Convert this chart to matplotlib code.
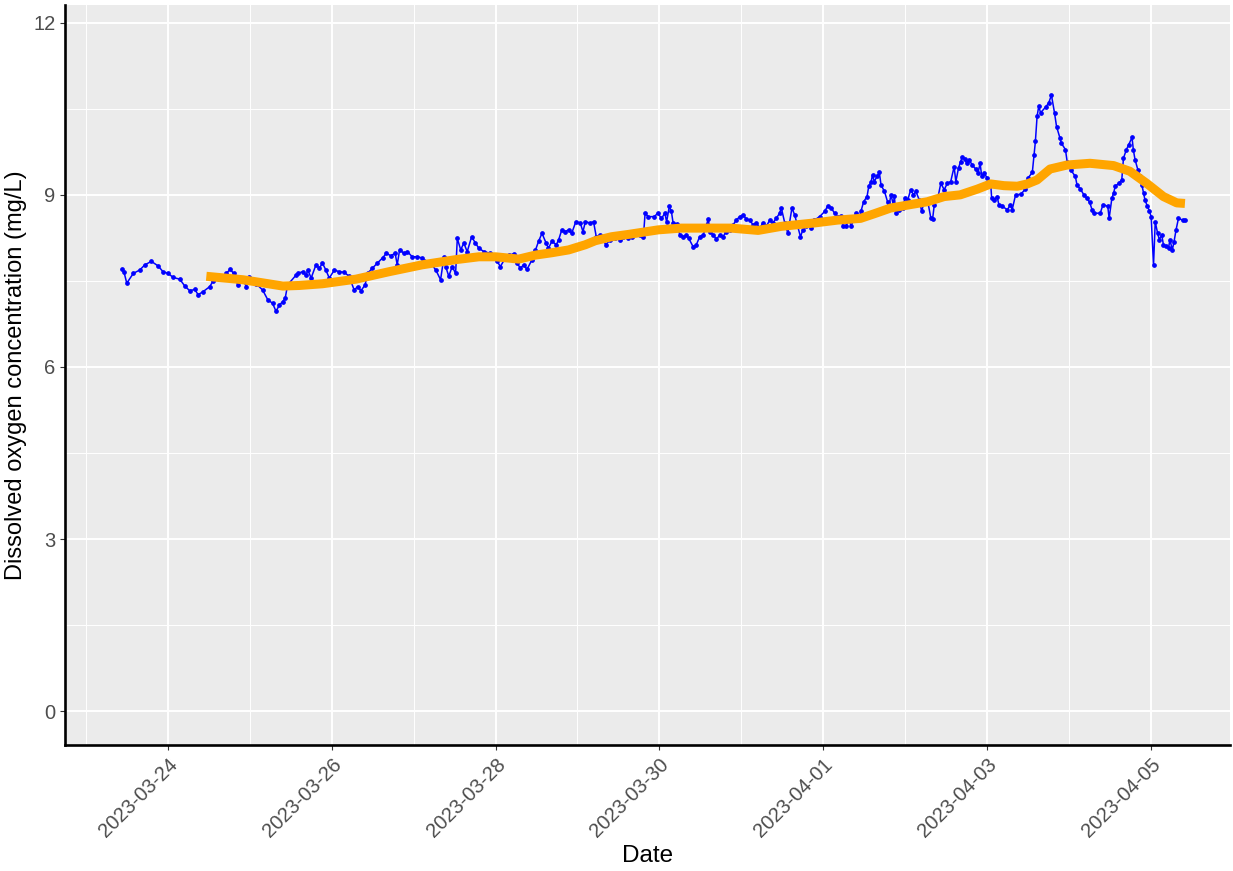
import numpy as np
import pandas as pd
import matplotlib
matplotlib.use("Agg")
import matplotlib.pyplot as plt
import matplotlib.dates as mdates

plt.rcParams['font.family'] = ['Liberation Sans', 'DejaVu Sans']

# hours after 2023-03-23 10:00 and dissolved oxygen (mg/L)
start = pd.Timestamp("2023-03-23 10:00")
do_hours = [0.5, 1.2, 2.0, 3.9, 5.8, 7.3, 9.2, 11.2, 12.6, 14.1, 15.6, 17.5, 19.0, 20.4,
            21.9, 22.9, 24.3, 26.3, 27.2, 29.2, 31.1, 32.3, 33.3, 34.5, 36.0, 37.0, 37.9,
            39.9, 41.8, 43.3, 44.7, 45.7, 46.7, 47.7, 48.4, 49.1, 51.6,
            52.0, 53.5, 54.5, 55.0, 56.0, 57.4, 58.4, 59.3, 60.3, 61.3, 62.8, 64.2, 65.7,
            67.1, 68.6, 69.6, 70.6, 71.8, 72.5, 73.9, 75.4, 76.9, 78.0, 79.3, 80.6, 81.2,
            81.9, 83.2, 84.2, 85.6, 87.1, 88.5, 89.0, 91.0, 92.5, 93.9, 94.9, 95.4, 96.3,
            97.3, 98.3, 98.8, 99.8, 100.7, 101.7, 103.0, 104.1, 105.1,
            106.6, 108.5, 110.5, 111.4, 112.9, 113.9, 115.3, 116.3, 117.3, 118.2, 119.2,
            120.7, 121.7, 122.6, 123.6, 124.8, 125.5, 126.5, 127.8, 128.5, 129.4, 130.4,
            131.4, 132.3, 133.5, 134.8, 135.6, 136.3, 137.7, 138.7, 139.5, 140.6, 142.3,
            143.6, 145.0, 146.5, 147.4, 148.9, 149.9, 152.3, 153.3, 153.8, 154.7, 156.5,
            157.5,
            158.6, 159.6, 160.1, 160.9, 161.5, 162.0, 163.0, 164.0, 165.0, 165.9, 166.6,
            167.9, 168.8, 169.8, 170.8, 171.8, 172.3, 172.8, 173.7, 174.7, 175.7, 176.6,
            177.6, 178.6, 179.6, 180.5, 181.5, 182.5, 183.4, 184.4, 185.4, 186.4, 187.4,
            188.3, 189.3, 190.3, 191.2, 192.2, 193.2, 193.7, 194.7, 195.6, 196.8, 197.6,
            198.5, 199.3, 200.0, 201.0, 202.0, 202.4, 203.4, 204.9, 206.4, 207.3, 208.3,
            209.3, 210.2,
            211.2, 211.7, 212.6, 213.6, 214.1, 215.1, 215.6, 216.6, 217.0, 217.8, 218.8,
            219.3, 220.0, 220.4, 220.9, 221.7, 222.4, 222.9, 223.9, 224.8, 225.3, 225.8,
            226.5, 226.8, 227.2, 228.2, 229.2, 229.9, 230.7, 231.6, 232.4, 233.1, 234.1,
            234.8, 235.5, 236.5, 237.5, 238.0, 238.5, 239.4, 240.4, 241.4, 242.3, 243.3,
            244.3, 244.8, 245.6, 246.2, 246.7, 247.4, 248.0, 248.7, 249.6, 250.6, 251.3,
            251.9, 252.4, 253.1, 254.0, 255.0, 255.3, 256.0, 256.9, 257.4, 258.4, 259.9,
            260.8, 261.3, 262.3,
            263.8, 265.2, 265.9, 267.2, 267.7, 268.1, 268.6, 269.1, 269.6, 271.1, 272.0,
            272.8, 273.7, 274.3, 275.3, 275.7, 276.9, 277.4, 278.4, 279.8, 280.3, 281.3,
            282.3, 283.2, 284.0, 284.7, 285.2, 287.1, 287.9, 289.3, 289.7, 290.5, 291.0,
            291.5, 292.5, 293.4, 293.9, 294.7, 295.4, 296.4, 296.8, 297.3, 298.1, 298.8,
            299.3, 299.8, 300.2, 300.9, 301.5, 302.0, 302.7, 303.2, 303.9, 304.4, 305.1,
            305.6, 306.4, 307.1, 307.5, 308.2, 308.7, 309.3, 310.0, 311.2, 311.9]
do_values = [7.70, 7.65, 7.46, 7.63, 7.69, 7.78, 7.84, 7.76, 7.66, 7.63, 7.56, 7.53, 7.41, 7.33,
             7.35, 7.26, 7.31, 7.40, 7.49, 7.53, 7.63, 7.70, 7.63, 7.43, 7.53, 7.40, 7.56,
             7.45, 7.34, 7.17, 7.11, 6.97, 7.08, 7.14, 7.20, 7.43, 7.60,
             7.63, 7.66, 7.60, 7.69, 7.55, 7.78, 7.72, 7.81, 7.69, 7.55, 7.69, 7.66, 7.65,
             7.58, 7.34, 7.40, 7.33, 7.43, 7.63, 7.72, 7.81, 7.90, 7.98, 7.94, 7.98, 7.78,
             8.04, 7.98, 8.01, 7.92, 7.92, 7.90, 7.84, 7.81, 7.69, 7.52, 7.92, 7.75, 7.58,
             7.75, 7.63, 8.24, 8.04, 8.16, 8.01, 8.27, 8.16, 8.07,
             8.01, 7.98, 7.84, 7.75, 7.90, 7.95, 7.97, 7.81, 7.72, 7.78, 7.70,
             7.87, 8.04, 8.19, 8.33, 8.16, 8.07, 8.19, 8.13, 8.22, 8.39, 8.36,
             8.39, 8.33, 8.53, 8.51, 8.36, 8.53, 8.51, 8.53, 8.27, 8.30, 8.13,
             8.22, 8.24, 8.22, 8.27, 8.24, 8.27, 8.30, 8.27, 8.68, 8.62, 8.62,
             8.68,
             8.59, 8.68, 8.53, 8.80, 8.71, 8.51, 8.49, 8.30, 8.27, 8.30, 8.24,
             8.09, 8.13, 8.27, 8.30, 8.48, 8.58, 8.36, 8.30, 8.23, 8.30, 8.27,
             8.36, 8.39, 8.48, 8.56, 8.62, 8.65, 8.58, 8.56, 8.48, 8.51, 8.42,
             8.51, 8.45, 8.56, 8.51, 8.59, 8.68, 8.77, 8.51, 8.33, 8.77, 8.65,
             8.45, 8.27, 8.39, 8.45, 8.53, 8.42, 8.56, 8.62, 8.71, 8.81, 8.77,
             8.68, 8.62,
             8.63, 8.46, 8.45, 8.59, 8.45, 8.61, 8.68, 8.62, 8.71, 8.88, 8.97,
             9.15, 9.23, 9.35, 9.23, 9.32, 9.39, 9.17, 9.06, 8.88, 8.83, 9.00,
             8.83, 8.98, 8.68, 8.74, 8.77, 8.94, 8.91, 9.09, 9.00, 9.06, 8.91,
             8.71, 8.88, 8.91, 8.59, 8.58, 8.83, 8.91, 9.20, 9.09, 9.20, 9.23,
             9.49, 9.23, 9.47, 9.58, 9.66, 9.62, 9.55, 9.61, 9.52, 9.45, 9.38,
             9.55, 9.32, 9.38, 9.29, 9.20, 8.94, 8.91, 8.97, 8.83, 8.80, 8.74,
             8.83, 8.74, 9.00,
             9.01, 9.10, 9.29, 9.39, 9.70, 9.93, 10.37, 10.55, 10.43, 10.53, 10.60,
             10.74, 10.43, 10.19, 9.99, 9.90, 9.79, 9.58, 9.44, 9.32, 9.17, 9.10,
             9.00, 8.94, 8.87, 8.74, 8.68, 8.68, 8.83, 8.80, 8.59, 8.94, 9.03,
             9.15, 9.20, 9.26, 9.64, 9.78, 9.87, 10.00, 9.78, 9.61, 9.44, 9.32,
             9.17, 9.03, 8.91, 8.80, 8.72, 8.62, 7.78, 8.53, 8.33, 8.22, 8.30,
             8.13, 8.10, 8.07, 8.22, 8.04, 8.18, 8.39, 8.59, 8.56, 8.56]

# smoothed (rolling) curve
smooth_hours = [25.3, 36.0, 47.7, 52.5, 59.3, 69.1, 78.8, 88.5, 98.3, 105.1, 110.0, 116.8,
                121.7, 126.4, 131.4, 136.3, 139.2, 144.0, 148.9, 157.7, 164.4, 174.2, 179.0,
                186.9, 193.6, 203.4, 210.2, 216.9, 220.9, 225.7, 231.5, 236.5, 241.4, 246.1,
                251.1, 255.0, 258.9, 262.8, 265.7, 268.6, 272.4, 277.4, 284.1, 291.0, 295.8,
                300.7, 305.6, 309.5, 311.9]
smooth_values = [7.58, 7.52, 7.41, 7.42, 7.45, 7.53, 7.66, 7.78, 7.87, 7.92, 7.92, 7.88,
                 7.95, 7.99, 8.04, 8.13, 8.20, 8.27, 8.31, 8.39, 8.42, 8.42, 8.42,
                 8.38, 8.45, 8.51, 8.56, 8.59, 8.67, 8.77, 8.83, 8.88, 8.97, 9.00,
                 9.10, 9.19, 9.16, 9.15, 9.19, 9.26, 9.45, 9.52, 9.55, 9.51, 9.41,
                 9.20, 8.97, 8.86, 8.85]

do_time = start + pd.to_timedelta(do_hours, unit="h")
smooth_time = start + pd.to_timedelta(smooth_hours, unit="h")

fig = plt.figure(figsize=(12.33, 8.71), dpi=100)
ax = fig.add_axes([0.0527, 0.1447, 0.9446, 0.8496])
ax.set_facecolor("#EBEBEB")

ax.plot(do_time, do_values, color="blue", lw=1.1, marker="o", ms=2.4, zorder=3)
ax.plot(smooth_time, smooth_values, color="orange", lw=6.5, solid_capstyle="butt",
        solid_joinstyle="round", zorder=4)

ax.set_xlim(pd.Timestamp("2023-03-22 17:54"), pd.Timestamp("2023-04-05 23:00"))
ax.set_ylim(-0.59, 12.31)
ax.set_yticks([0, 3, 6, 9, 12])
ax.set_yticks([1.5, 4.5, 7.5, 10.5], minor=True)
ax.xaxis.set_major_locator(mdates.DayLocator(bymonthday=[24, 26, 28, 30, 1, 3, 5]))
ax.xaxis.set_minor_locator(mdates.DayLocator())
ax.xaxis.set_major_formatter(mdates.DateFormatter("%Y-%m-%d"))

ax.grid(which="major", color="white", lw=1.4)
ax.grid(which="minor", color="white", lw=0.7)
ax.set_axisbelow(True)

for s in ["top", "right"]:
    ax.spines[s].set_visible(False)
for s in ["left", "bottom"]:
    ax.spines[s].set_color("black")
    ax.spines[s].set_linewidth(1.9)

ax.tick_params(which="major", length=3.5, width=0.8, color="#333333",
               labelsize=14.5, labelcolor="#4D4D4D")
ax.tick_params(which="minor", length=0)
plt.setp(ax.get_xticklabels(), rotation=45, ha="right", va="top", rotation_mode="anchor")

ax.set_xlabel("Date", fontsize=17.5, color="black", labelpad=3)
ax.set_ylabel("Dissolved oxygen concentration (mg/L)", fontsize=17, color="black", labelpad=4)

fig.savefig("out.png", dpi=100)
